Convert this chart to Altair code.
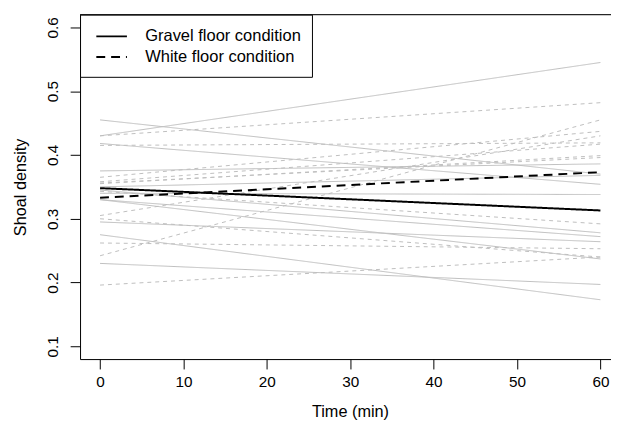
import altair as alt
import pandas as pd

times = [0, 60]

gravel_start = [0.430, 0.455, 0.418, 0.375, 0.350, 0.340, 0.345, 0.330, 0.295, 0.275, 0.230, 0.330]
gravel_end   = [0.545, 0.370, 0.354, 0.386, 0.368, 0.338, 0.278, 0.272, 0.264, 0.173, 0.197, 0.237]

white_start = [0.430, 0.415, 0.365, 0.358, 0.356, 0.355, 0.343, 0.305, 0.300, 0.262, 0.242, 0.196]
white_end   = [0.482, 0.419, 0.437, 0.417, 0.396, 0.399, 0.292, 0.430, 0.240, 0.253, 0.455, 0.240]

mean_gravel = [0.348, 0.313]
mean_white = [0.333, 0.373]

labels = ["Gravel floor condition", "White floor condition"]

rows = []
for i, (a, b) in enumerate(zip(gravel_start, gravel_end)):
    rows.append({"id": f"g{i}", "cond": labels[0], "t": times[0], "v": a})
    rows.append({"id": f"g{i}", "cond": labels[0], "t": times[1], "v": b})
for i, (a, b) in enumerate(zip(white_start, white_end)):
    rows.append({"id": f"w{i}", "cond": labels[1], "t": times[0], "v": a})
    rows.append({"id": f"w{i}", "cond": labels[1], "t": times[1], "v": b})
indiv = pd.DataFrame(rows)

mrows = []
for k, arr in zip(labels, [mean_gravel, mean_white]):
    for t, v in zip(times, arr):
        mrows.append({"cond": k, "t": t, "v": v})
means = pd.DataFrame(mrows)

W, H = 538, 349
FONT = "Liberation Sans"

xscale = alt.Scale(domain=[-2.4, 61.27], nice=False, zero=False)
yscale = alt.Scale(domain=[0.08, 0.62], nice=False, zero=False)

xaxis = alt.Axis(values=[0, 10, 20, 30, 40, 50, 60], title="Time (min)", grid=False,
                 domainColor="black", tickColor="black", tickSize=10, labelFontSize=15.5,
                 labelColor="black", labelFont=FONT, labelPadding=6, titleFontSize=16.5,
                 titleFont=FONT, titleFontWeight="normal", titleColor="black",
                 titleX=273.5, titleY=53, titleBaseline="middle", titleAnchor="start",
                 titleAlign="center", labelFlush=False)
yaxis = alt.Axis(values=[0.1, 0.2, 0.3, 0.4, 0.5, 0.6], format=".1f", title="Shoal density",
                 grid=False, domainColor="black", tickColor="black", tickSize=10,
                 labelFontSize=15.5, labelColor="black", labelFont=FONT, labelAngle=270,
                 labelAlign="center", labelBaseline="alphabetic", labelPadding=13,
                 titleFontSize=16.5, titleFont=FONT, titleFontWeight="normal",
                 titleColor="black", titleAngle=270, titleX=-60, titleY=H / 2,
                 titleBaseline="middle", titleAlign="center", titleAnchor="start",
                 labelFlush=False)

dash_scale = alt.Scale(domain=labels, range=[[1, 0], [4, 4]])
dash_scale_mean = alt.Scale(domain=labels, range=[[1, 0], [9, 6]])

gray = alt.Chart(indiv).mark_line(color="#BEBEBE", strokeWidth=1, clip=True).encode(
    x=alt.X("t:Q", scale=xscale, axis=xaxis),
    y=alt.Y("v:Q", scale=yscale, axis=yaxis),
    detail="id:N",
    strokeDash=alt.StrokeDash("cond:N", scale=dash_scale, legend=None),
)

mean = alt.Chart(means).mark_line(color="black", strokeWidth=2, clip=True).encode(
    x=alt.X("t:Q", scale=xscale),
    y=alt.Y("v:Q", scale=yscale),
    strokeDash=alt.StrokeDash(
        "cond:N", scale=dash_scale_mean,
        legend=alt.Legend(title=None, orient="none", legendX=0, legendY=0,
                          strokeColor="black", padding=11,
                          symbolType="M-0.55,0H2.55",
                          symbolStrokeColor="black", symbolStrokeWidth=2,
                          symbolSize=400, labelFontSize=16.7, labelFont=FONT,
                          labelColor="black", labelOffset=33, rowPadding=1,
                          fillColor="white"),
    ),
)

top = alt.Chart(pd.DataFrame({"a": [0]})).mark_rule(color="black", strokeWidth=1).encode(
    x=alt.value(0), x2=alt.value(W), y=alt.value(0)
)

chart = alt.layer(gray, mean, top).resolve_scale(strokeDash="independent").properties(
    width=W, height=H,
    padding={"left": 73, "top": 4, "right": 0, "bottom": 60},
    autosize=alt.AutoSizeParams(type="none"),
).configure_view(stroke=None).configure(background="white")

chart.save("out.html", embed_options={"renderer": "svg", "actions": False})
